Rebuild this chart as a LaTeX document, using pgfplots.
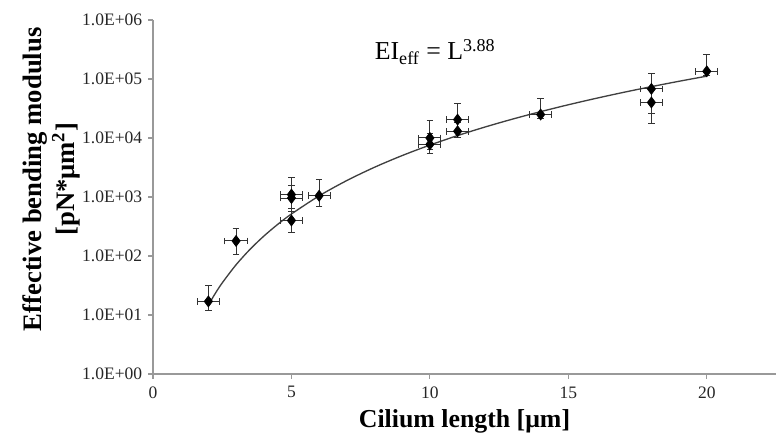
\documentclass[border=0pt]{standalone}
\usepackage{pgfplots}
\pgfplotsset{compat=1.18}
\usepackage{fontspec}
\setmainfont{Liberation Serif}
\pgfplotstableread{
x y ex eyp eym
2 17 0.4 15 5
3 180 0.4 108 72
5 1100 0.4 1000 450
5 960 0.4 600 400
5 400 0.4 250 150
6 1050 0.4 900 350
10 10000 0.4 9500 3500
10 7800 0.4 4000 2300
11 20500 0.4 18000 7000
11 13000 0.4 5000 3000
14 25000 0.4 22000 4000
18 68000 0.4 58000 42000
18 40000 0.4 30000 22700
20 135000 0.4 125000 20000
}\datatable
\pgfplotstableread{
x y
2 14.72
2.25 23.25
2.5 35.0
3 71.0
3.5 129.1
4 216.8
4.5 342.4
5 515.3
6 1045
7 1901
8 3192
9 5041
10 7586
11 10982
12 15393
13 20999
14 27999
15 36588
16 46990
17 59449
18 74223
19 91544
20 111720
}\fittable
\begin{document}
\begin{tikzpicture}
\begin{axis}[
  scale only axis,
  width=373.8pt, height=212.4pt,
  xmin=0, xmax=22.5,
  ymode=log, log basis y=10,
  ymin=1, ymax=1000000,
  axis x line=bottom, axis y line=left,
  axis line style={-, draw=black!40, line width=0.9pt},
  tick style={draw=black!40, line width=0.7pt},
  tick align=outside,
  major tick length=3pt,
  xtick={0,5,10,15,20},
  ytick={1,10,100,1000,10000,100000,1000000},
  yticklabels={1.0E+00,1.0E+01,1.0E+02,1.0E+03,1.0E+04,1.0E+05,1.0E+06},
  yminorticks=false,
  /pgf/number format/assume math mode=true,
  ticklabel style={font=\fontsize{10.5}{12}\selectfont, text=black!85},
  xticklabel style={yshift=-1pt},
  xlabel={Cilium length [μm]},
  xlabel style={font=\bfseries\fontsize{15.5}{18}\selectfont, yshift=0pt},
  ylabel={Effective bending modulus\\[2pt]{}[pN*μm\textsuperscript{2}]},
  ylabel style={font=\bfseries\fontsize{16}{17}\selectfont, align=center,
    at={(rel axis cs:-0.163,0.55)}, anchor=center},
  clip=false,
]
\addplot[black!75, line width=0.8pt, smooth, no marks] table[x=x,y=y] {\fittable};
\addplot[only marks, mark=diamond*, mark size=3.3pt, mark options={fill=black, draw=black},
  error bars/.cd,
    x dir=both, x explicit,
    y dir=both, y explicit,
    error bar style={black!80, line width=0.6pt},
    error mark options={black!80, line width=0.6pt, mark size=2pt, rotate=90}]
  table[x=x, y=y, x error=ex, y error plus=eyp, y error minus=eym] {\datatable};
\node[anchor=base west, font=\fontsize{15.5}{18}\selectfont, inner sep=0pt]
  at (axis cs:8.0,2.1e5) {EI\textsubscript{eff} = L\textsuperscript{3.88}};
\coordinate (bbA) at (rel axis cs:-0.2456,-0.189);
\coordinate (bbB) at (rel axis cs:1,1.0565);
\end{axis}
\pgfresetboundingbox
\path (bbA) rectangle (bbB);
\end{tikzpicture}
\end{document}
